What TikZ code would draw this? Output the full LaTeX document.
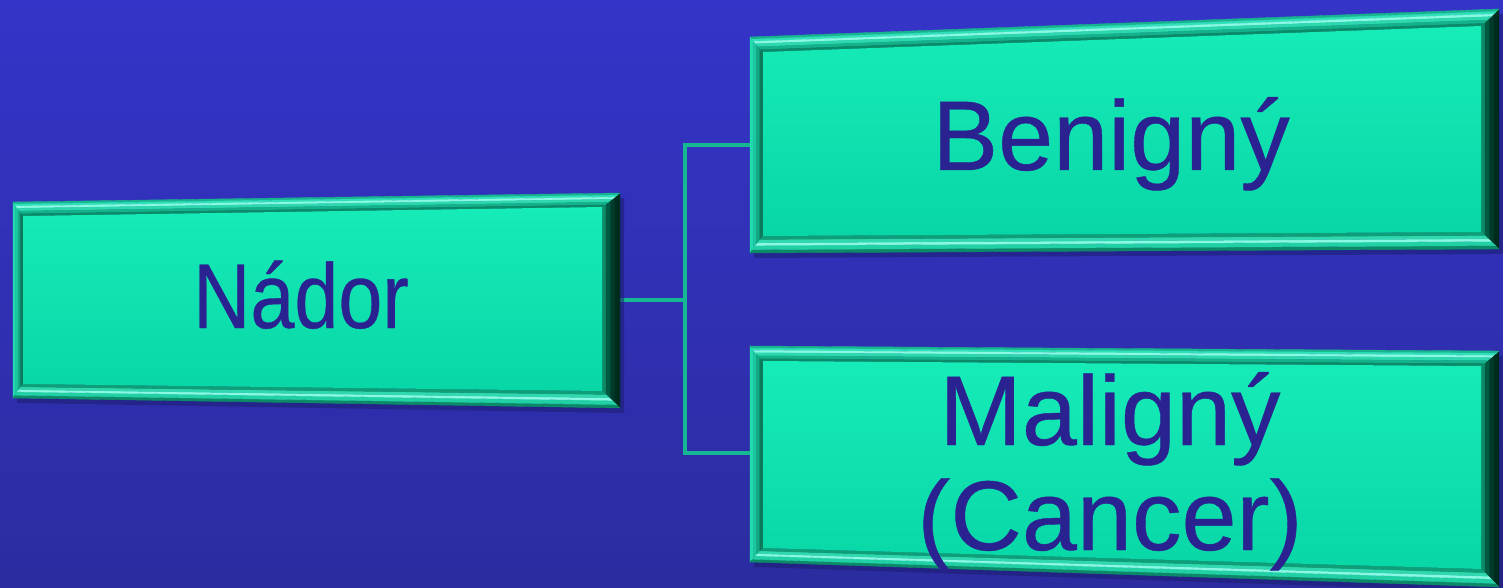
\documentclass[tikz,border=0pt]{standalone}
\usepackage{fontspec}
\setmainfont{Liberation Sans}
\newfontfamily\boxfont{Liberation Sans}[FakeBold=0.4]
\usetikzlibrary{calc}
\definecolor{bgtop}{HTML}{3434C8}
\definecolor{bgbot}{HTML}{2C2CA0}
\definecolor{facelt}{HTML}{16ECB8}
\definecolor{facedk}{HTML}{08D6A6}
\definecolor{txt}{HTML}{2A2290}
\definecolor{wire}{HTML}{16B894}
\definecolor{shadowc}{HTML}{1C1C70}
\tikzset{
  boxtext/.style={text=txt, inner sep=0pt, anchor=base, font=\boxfont\fontsize{99}{105}\selectfont},
  wireline/.style={draw=wire, line width=4pt, line cap=butt, line join=miter},
}
% strip between outer edge P-Q and inner edge p-q, from fraction #5 to #6
\newcommand{\qstrip}[7]{%
  \filldraw[fill=#7, draw=#7, line width=0.4pt]
    ($(#1)!#5!(#3)$) -- ($(#2)!#5!(#4)$) -- ($(#2)!#6!(#4)$) -- ($(#1)!#6!(#3)$) -- cycle;
}
\newcommand{\bevelbox}[1]{%
  \fill[shadowc, opacity=0.55] ([shift={(4,5)}]#1A) -- ([shift={(4,5)}]#1B) -- ([shift={(4,5)}]#1C) -- ([shift={(4,5)}]#1D) -- cycle;
  % left bevel
  \qstrip{#1A}{#1D}{#1a}{#1d}{0}{0.25}{HTML1}%
  \qstrip{#1A}{#1D}{#1a}{#1d}{0.25}{0.5}{HTML2}%
  \qstrip{#1A}{#1D}{#1a}{#1d}{0.5}{0.75}{HTML3}%
  \qstrip{#1A}{#1D}{#1a}{#1d}{0.75}{1}{HTML4}%
  % right bevel
  \qstrip{#1B}{#1C}{#1b}{#1c}{0}{0.3}{RTa}%
  \qstrip{#1B}{#1C}{#1b}{#1c}{0.3}{0.55}{RTb}%
  \qstrip{#1B}{#1C}{#1b}{#1c}{0.55}{0.8}{RTc}%
  \qstrip{#1B}{#1C}{#1b}{#1c}{0.8}{1}{RTd}%
  % top bevel
  \qstrip{#1A}{#1B}{#1a}{#1b}{0}{0.15}{TPa}%
  \qstrip{#1A}{#1B}{#1a}{#1b}{0.15}{0.3}{TPb}%
  \qstrip{#1A}{#1B}{#1a}{#1b}{0.3}{0.45}{TPc}%
  \qstrip{#1A}{#1B}{#1a}{#1b}{0.45}{0.65}{TPd}%
  \qstrip{#1A}{#1B}{#1a}{#1b}{0.65}{0.85}{TPe}%
  \qstrip{#1A}{#1B}{#1a}{#1b}{0.85}{1}{TPf}%
  % bottom bevel (fractions from outer edge)
  \qstrip{#1D}{#1C}{#1d}{#1c}{0}{0.2}{BTa}%
  \qstrip{#1D}{#1C}{#1d}{#1c}{0.2}{0.45}{BTb}%
  \qstrip{#1D}{#1C}{#1d}{#1c}{0.45}{0.6}{BTc}%
  \qstrip{#1D}{#1C}{#1d}{#1c}{0.6}{0.8}{BTd}%
  \qstrip{#1D}{#1C}{#1d}{#1c}{0.8}{1}{BTe}%
  \shade[top color=facelt, bottom color=facedk] (#1a) -- (#1b) -- (#1c) -- (#1d) -- cycle;
}
\definecolor{HTML1}{HTML}{22DCAE}
\definecolor{HTML2}{HTML}{1CCAA0}
\definecolor{HTML3}{HTML}{12A884}
\definecolor{HTML4}{HTML}{0A7A5A}
\definecolor{RTa}{HTML}{002C1E}
\definecolor{RTb}{HTML}{003A28}
\definecolor{RTc}{HTML}{005A42}
\definecolor{RTd}{HTML}{0E8A68}
\definecolor{TPa}{HTML}{18B48E}
\definecolor{TPb}{HTML}{30E0B8}
\definecolor{TPc}{HTML}{8AF8E2}
\definecolor{TPd}{HTML}{2ED8AE}
\definecolor{TPe}{HTML}{14B28C}
\definecolor{TPf}{HTML}{0A8A66}
\definecolor{BTa}{HTML}{0C8A68}
\definecolor{BTb}{HTML}{22D0A6}
\definecolor{BTc}{HTML}{8AF8E2}
\definecolor{BTd}{HTML}{30D8B0}
\definecolor{BTe}{HTML}{0E9E78}
\begin{document}
\begin{tikzpicture}[x=1pt, y=-1pt]
\shade[top color=bgtop, bottom color=bgbot] (0,0) rectangle (1503,588);
\useasboundingbox (0,0) rectangle (1503,588);

% Nádor box
\coordinate (nA) at (13,202);  \coordinate (nB) at (620,193);
\coordinate (nC) at (620,408); \coordinate (nD) at (13,398);
\coordinate (na) at (23,216);  \coordinate (nb) at (602,207);
\coordinate (nc) at (602,391); \coordinate (nd) at (23,384);
% Benigný box
\coordinate (bA) at (750,37);   \coordinate (bB) at (1499,9);
\coordinate (bC) at (1499,249); \coordinate (bD) at (750,253);
\coordinate (ba) at (763,52);   \coordinate (bb) at (1481,26);
\coordinate (bc) at (1481,232); \coordinate (bd) at (763,236);
% Maligný box
\coordinate (mA) at (750,346);  \coordinate (mB) at (1499,351);
\coordinate (mC) at (1499,587); \coordinate (mD) at (750,562);
\coordinate (ma) at (763,361);  \coordinate (mb) at (1481,366);
\coordinate (mc) at (1481,569); \coordinate (md) at (763,548);

% connector anchors
\coordinate (nadorE) at (620,300);
\coordinate (junc) at (685,300);
\coordinate (benW) at (752,145);
\coordinate (malW) at (752,453);

\draw[wireline] (nadorE) -- (junc);
\draw[wireline] (junc) |- (benW);
\draw[wireline] (junc) |- (malW);

\bevelbox{n}
\bevelbox{b}
\bevelbox{m}

\node[boxtext, xscale=0.86, font=\boxfont\fontsize{92}{100}\selectfont] (nador) at (301,328) {Nádor};
\node[boxtext] (benigny) at (1111,170) {Benigný};
\node[boxtext] (maligny) at (1110,445) {Maligný};
\node[boxtext] (cancer) at (1110,550) {(Cancer)};
\end{tikzpicture}
\end{document}
